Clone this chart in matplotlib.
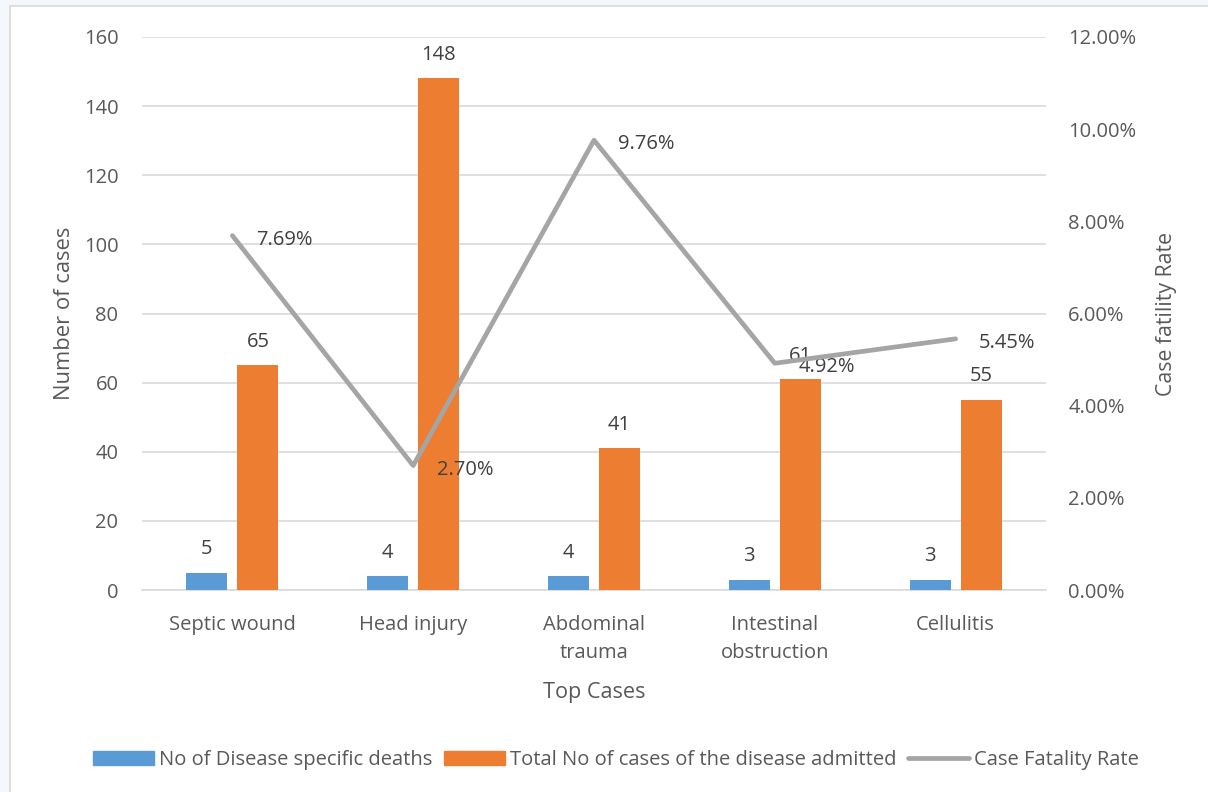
import numpy as np
import matplotlib.pyplot as plt
from matplotlib.patches import Rectangle
from matplotlib.lines import Line2D

categories = ["Septic wound", "Head injury", "Abdominal\ntrauma", "Intestinal\nobstruction", "Cellulitis"]
deaths = [5, 4, 4, 3, 3]
admitted = [65, 148, 41, 61, 55]
fatality = [7.69, 2.70, 9.76, 4.92, 5.45]

blue = "#5B9BD5"
orange = "#ED7D31"
grey = "#A5A5A5"
txt = "#595959"
fs = 14.5

plt.rcParams['font.family'] = ['Open Sans', 'DejaVu Sans']
plt.rcParams['font.size'] = fs

fig = plt.figure(figsize=(12.08, 7.92), dpi=100, facecolor="#F4F7FC")
# white chart frame
fig.patches.append(Rectangle((10 / 1208, -0.01), 1.0, 786 / 792 + 0.01, transform=fig.transFigure,
                             facecolor="white", edgecolor="#D9D9D9", linewidth=1.2, zorder=-5))

ax = fig.add_axes([142 / 1208, (792 - 590) / 792, 904 / 1208, 553 / 792])
ax.set_facecolor("none")
x = np.arange(len(categories))
w = 0.227
off = 0.141
ax.bar(x - off, deaths, w, color=blue, zorder=3)
ax.bar(x + off, admitted, w, color=orange, zorder=3)

ax.set_xlim(-0.5, len(categories) - 0.5)
ax.set_ylim(0, 160)
ax.set_yticks(range(0, 161, 20))
ax.yaxis.grid(True, color="#D9D9D9", linewidth=1.2, zorder=0)
for s in ["top", "right", "left"]:
    ax.spines[s].set_visible(False)
ax.spines["bottom"].set_color("#D9D9D9")
ax.spines["bottom"].set_linewidth(1.2)
ax.tick_params(axis="both", length=0, colors=txt, labelsize=fs)
ax.tick_params(axis="y", pad=17)
ax.tick_params(axis="x", pad=18)
ax.set_xticks(x)
ax.set_xticklabels(categories, linespacing=1.5, va="top")

# value labels above the bars
for i in range(len(categories)):
    ax.annotate(str(deaths[i]), (x[i] - off, deaths[i]), xytext=(0, 17), textcoords="offset points",
                ha="center", va="center", color="#404040", fontsize=fs)
    ax.annotate(str(admitted[i]), (x[i] + off, admitted[i]), xytext=(0, 17), textcoords="offset points",
                ha="center", va="center", color="#404040", fontsize=fs)

ax.set_ylabel("Number of cases", color=txt, fontsize=15.8, labelpad=6)
ax.set_xlabel("Top Cases", color=txt, fontsize=15.6, labelpad=14)

ax2 = ax.twinx()
ax2.plot(x, fatality, color=grey, linewidth=3.4, solid_capstyle="round", zorder=4)
ax2.set_ylim(0, 12)
ax2.set_yticks(range(0, 13, 2))
ax2.set_yticklabels([f"{v:.2f}%" for v in range(0, 13, 2)])
for s in ["top", "right", "left", "bottom"]:
    ax2.spines[s].set_visible(False)
ax2.tick_params(axis="y", length=0, colors=txt, labelsize=fs, pad=16)
ax2.set_ylabel("Case fatility Rate", color=txt, fontsize=15.3, labelpad=14)
for i in range(len(categories)):
    ax2.annotate(f"{fatality[i]:.2f}%", (x[i], fatality[i]), xytext=(17, -3), textcoords="offset points",
                 ha="left", va="center", color="#404040", fontsize=fs)

handles = [Rectangle((0, 0), 1, 1, color=blue), Rectangle((0, 0), 1, 1, color=orange),
           Line2D([], [], color=grey, linewidth=3.4, solid_capstyle="round")]
labels = ["No of Disease specific deaths", "Total No of cases of the disease admitted", "Case Fatality Rate"]
fig.legend(handles, labels, loc="center", bbox_to_anchor=(616 / 1208, 1 - 760 / 792), ncol=3, frameon=False,
           fontsize=fs, labelcolor=txt, handlelength=3.0, handleheight=0.7, handletextpad=0.25,
           columnspacing=0.6)

fig.savefig("out.png", dpi=100, facecolor=fig.get_facecolor())
